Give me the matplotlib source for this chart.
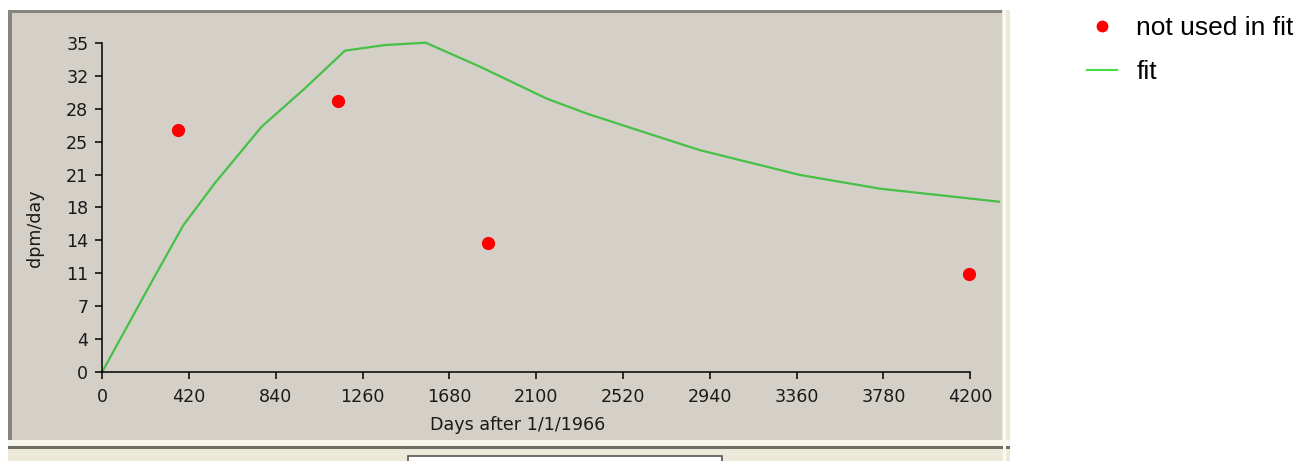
import matplotlib
matplotlib.use("Agg")
import matplotlib.pyplot as plt
from matplotlib.patches import Rectangle
from matplotlib.lines import Line2D

# data
fit_days = [0, 247, 392, 545, 771, 981, 1174, 1368, 1565, 1827, 2150, 2344,
            2666, 2892, 3376, 3763, 4344]
fit_vals = [0, 9.9, 15.6, 20.1, 26.1, 30.2, 34.2, 34.8, 35.05, 32.5, 29.1, 27.5,
            25.2, 23.6, 20.96, 19.5, 18.1]

pt_days = [368, 1139, 1866, 4195]
pt_vals = [25.8, 28.8, 13.75, 10.4]

x_ticks = [0, 420, 840, 1260, 1680, 2100, 2520, 2940, 3360, 3780, 4200]
y_ticks = [0, 3.5, 7, 10.5, 14, 17.5, 21, 24.5, 28, 31.5, 35]
y_tick_labels = ["0", "4", "7", "11", "14", "18", "21", "25", "28", "32", "35"]

# styling
W, H = 1299, 461
PANEL = "#D4D0C8"
BEIGE = "#ECE9D8"
DARK_EDGE = "#85857C"
GREEN = "#46C046"
RED = "#FF0000"

fig = plt.figure(figsize=(W / 100, H / 100), dpi=100)
fig.patch.set_facecolor("white")


def rect(x0, y0, x1, y1, color, z=-5, **kw):
    # image pixel coords (origin top-left) -> figure fraction
    r = Rectangle((x0 / W, 1 - y1 / H), (x1 - x0) / W, (y1 - y0) / H,
                  transform=fig.transFigure, facecolor=color, edgecolor="none",
                  zorder=z, **kw)
    fig.add_artist(r)


# window chrome behind the chart
rect(8, 10, 1010, 461, BEIGE, z=-10)
rect(10, 12, 1002, 440, PANEL, z=-9)
rect(8, 10, 1002, 13, DARK_EDGE, z=-8)
rect(8, 10, 12, 440, DARK_EDGE, z=-8)
rect(8, 440, 1010, 446, "#F7F5EC", z=-8)
rect(8, 446, 1010, 449, "#6E6E64", z=-8)
rect(1003, 10, 1006, 461, "#FAF9F3", z=-8)
box = Rectangle((408 / W, 1 - 470 / H), 314 / W, 14 / H, transform=fig.transFigure,
                facecolor="white", edgecolor="#555555", lw=1.2, zorder=-7)
fig.add_artist(box)

# axes placed to match the reference pixels
x0_px, x1_px = 102.3, 1000
y0_px, y1_px = 371.7, 15
ax = fig.add_axes([x0_px / W, 1 - y0_px / H, (x1_px - x0_px) / W, (y0_px - y1_px) / H])
ax.set_facecolor("none")

ax.plot(fit_days, fit_vals, color=GREEN, lw=1.6, zorder=2)
ax.plot(pt_days, pt_vals, "o", color=RED, ms=8.5, mec=RED, zorder=3)

ax.set_xlim(0, 4344)
ax.set_ylim(0, 38.0)

ax.set_xticks(x_ticks)
ax.set_yticks(y_ticks)
ax.set_yticklabels(y_tick_labels)

for s in ["top", "right"]:
    ax.spines[s].set_visible(False)
ax.spines["left"].set_bounds(0, 35)
ax.spines["bottom"].set_bounds(0, 4200)
for s in ["left", "bottom"]:
    ax.spines[s].set_linewidth(1.1)
    ax.spines[s].set_color("black")

ax.tick_params(axis="both", direction="out", length=5, width=1.1, colors="black",
               labelsize=12.6, labelcolor="#1A1A1A")
ax.tick_params(axis="x", pad=7)
ax.tick_params(axis="y", pad=5)

ax.set_xlabel("Days after 1/1/1966", fontsize=12.6, color="#1A1A1A")
ax.xaxis.set_label_coords((518 - x0_px) / (x1_px - x0_px), (y0_px - 425) / (y0_px - y1_px))
ax.xaxis.label.set_va("center")
ax.set_ylabel("dpm/day", fontsize=12.6, color="#1A1A1A")
ax.yaxis.set_label_coords((35 - x0_px) / (x1_px - x0_px), (y0_px - 228) / (y0_px - y1_px))
ax.yaxis.label.set_va("center")

# legend outside the panel
handles = [
    Line2D([], [], ls="none", marker="o", color=RED, ms=7.5),
    Line2D([], [], color="#44DD44", lw=1.5),
]
fig.legend(handles, ["not used in fit", "fit"], loc="upper left",
           bbox_to_anchor=(1087 / W, 1 - 16 / H), frameon=False,
           prop={"family": "Liberation Sans", "size": 19},
           handlelength=1.15, handletextpad=0.72, labelspacing=0.77,
           borderpad=0, borderaxespad=0)

fig.savefig("out.png", dpi=100)
